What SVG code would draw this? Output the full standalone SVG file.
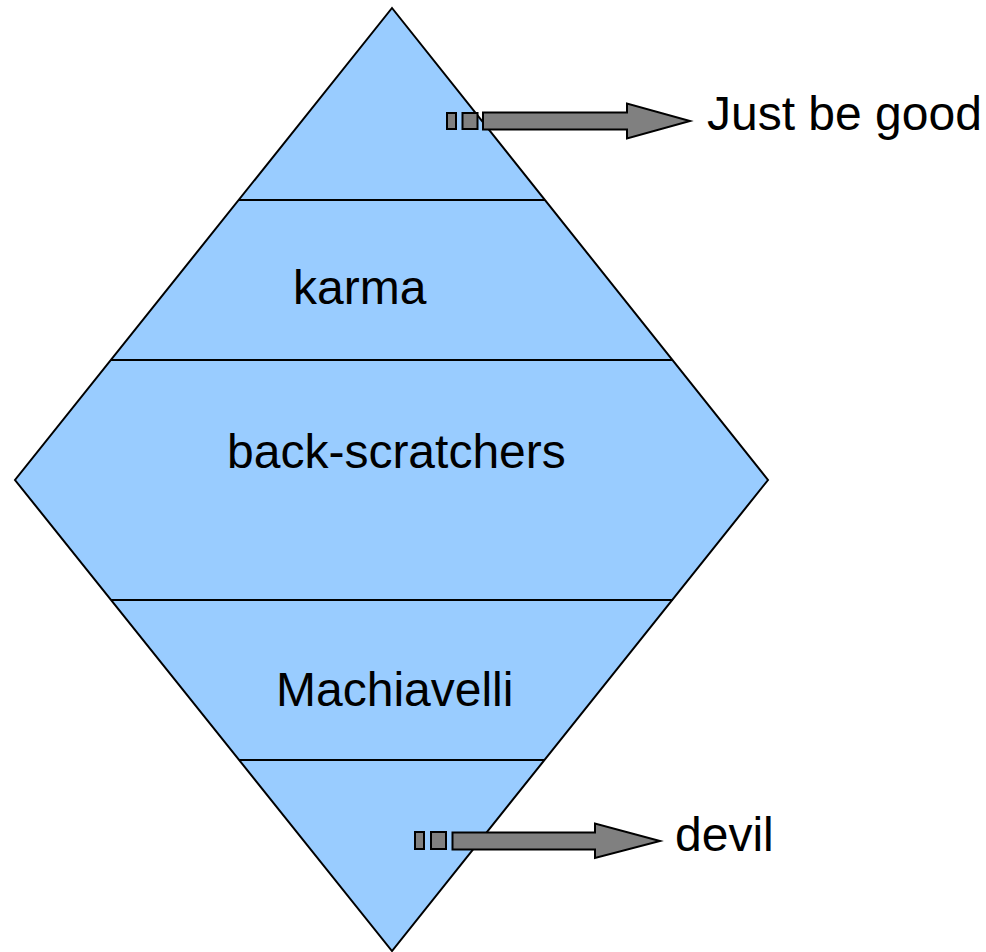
<svg xmlns="http://www.w3.org/2000/svg" width="986" height="952" viewBox="0 0 986 952">
<style>
.shape{fill:#99ccff;stroke:#000;stroke-width:2;stroke-linejoin:miter}
.div{stroke:#000;stroke-width:2;fill:none}
.lbl{font-family:"Liberation Sans",Arial,sans-serif;font-size:48px;fill:#000}
.arr{fill:#808080;stroke:#000;stroke-width:2;stroke-linejoin:miter}
</style>
<rect width="986" height="952" fill="#fff"/>
<g id="diamond">
<polygon class="shape" points="392,8 768,480 392,951 15,480"/>
<line class="div" x1="239" y1="200" x2="545" y2="200"/>
<line class="div" x1="111" y1="360" x2="673" y2="360"/>
<line class="div" x1="111" y1="600" x2="673" y2="600"/>
<line class="div" x1="239" y1="760" x2="545" y2="760"/>
</g>
<g id="karma"><text class="lbl" x="293" y="304">karma</text></g>
<g id="back-scratchers"><text class="lbl" x="227" y="468">back-scratchers</text></g>
<g id="machiavelli"><text class="lbl" x="276" y="706">Machiavelli</text></g>
<g id="just-be-good"><text class="lbl" x="707" y="130">Just be good</text></g>
<g id="devil"><text class="lbl" x="675" y="851">devil</text></g>
<g id="connectors">
<rect class="arr" x="447" y="113" width="9" height="16"/>
<rect class="arr" x="462.5" y="113" width="15" height="16"/>
<polygon class="arr" points="483,112.5 627,112.5 627,103.5 690,121 627,138.5 627,129.5 483,129.5"/>
<rect class="arr" x="415" y="832" width="9" height="17"/>
<rect class="arr" x="431" y="832" width="15" height="17"/>
<polygon class="arr" points="452.5,832.5 595,832.5 595,823.5 660,841 595,858 595,849.5 452.5,849.5"/>
</g>
</svg>
